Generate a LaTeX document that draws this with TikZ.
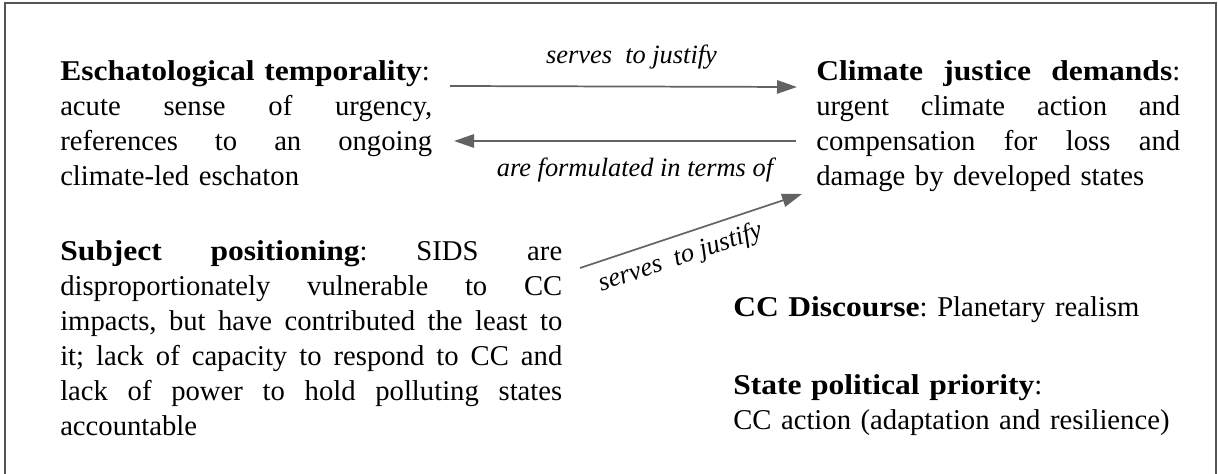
\documentclass[tikz,border=0pt]{standalone}
\usepackage{fontspec}
\setmainfont{Liberation Serif}[BoldFeatures={FakeStretch=1.1}]
\usetikzlibrary{arrows.meta}
\definecolor{arrowgray}{HTML}{626262}
\definecolor{framegray}{HTML}{555555}
\frenchspacing
\newcommand{\J}[2]{\leavevmode\hbox to #1{\spaceskip=.25em plus 1fil\relax #2}}
\tikzset{
  txt/.style={anchor=base west, inner sep=0pt, align=left, font=\fontsize{21.5}{26.25}\selectfont\frenchspacing},
  lbl/.style={inner sep=0pt, font=\fontsize{19.8}{22}\selectfont\itshape},
  conn/.style={draw=arrowgray, line width=1.3pt, -{Triangle[length=15pt,width=10pt]}},
}
\begin{document}
\begin{tikzpicture}[x=0.75pt,y=-0.75pt]
\useasboundingbox (0,0) rectangle (1218,474);
\draw[framegray, line width=1.5pt] (5,480) -- (5,3) -- (1215.5,3) -- (1215.5,480);
\node[txt, text width=279pt] (esch) at (60,81) {\textbf{Eschatological temporality}:\\
\J{279pt}{acute sense of urgency,}\\
\J{279pt}{references to an ongoing}\\
climate-led eschaton};
\node[txt, text width=273pt] (cjd) at (816,81) {\J{273pt}{\textbf{Climate justice demands}:}\\
\J{273pt}{urgent climate action and}\\
\J{273pt}{compensation for loss and}\\
damage by developed states};
\node[txt, text width=376.5pt] (subj) at (60,261) {\J{376.5pt}{\textbf{Subject positioning}: SIDS are}\\
\J{376.5pt}{disproportionately vulnerable to CC}\\
\J{376.5pt}{impacts, but have contributed the least to}\\
\J{376.5pt}{it; lack of capacity to respond to CC and}\\
\J{376.5pt}{lack of power to hold polluting states}\\
accountable};
\node[txt, text width=340pt] (disc) at (733,316) {\textbf{CC Discourse}: Planetary realism};
\node[txt, text width=340pt] (prio) at (733,394) {\textbf{State political priority}:\\CC action (adaptation and resilience)};
\coordinate (a1s) at (450,86);
\coordinate (a1e) at (797,87);
\coordinate (a2s) at (796,141);
\coordinate (a2e) at (454,141);
\coordinate (a3s) at (580,268);
\coordinate (a3e) at (802,194);
\draw[conn] (a1s) -- node[lbl, above=12pt, xshift=6pt] (l1) {serves\ \ to justify} (a1e);
\draw[conn] (a2s) -- node[lbl, below=12pt, xshift=7.5pt] (l2) {are formulated in terms of} (a2e);
\draw[conn] (a3s) -- node[lbl, sloped, below=7pt, pos=0.42] (l3) {serves\ \ to justify} (a3e);
\end{tikzpicture}
\end{document}
